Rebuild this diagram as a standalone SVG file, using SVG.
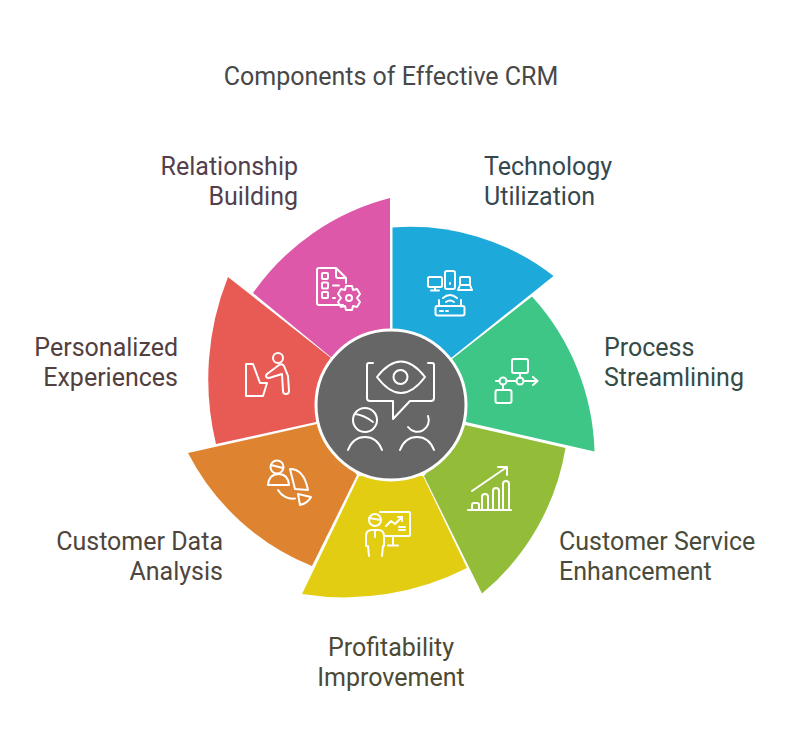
<svg xmlns="http://www.w3.org/2000/svg" width="798" height="753" viewBox="0 0 798 753">
<style>
text{font-family:Roboto,"Liberation Sans",sans-serif;font-size:25px}
.e{text-anchor:end}
.i{fill:none;stroke:#fff;stroke-width:2;stroke-linecap:round;stroke-linejoin:round}
</style>
<rect width="798" height="753" fill="#fff"/>
<text id="title" x="391" y="85" text-anchor="middle" fill="#484848">Components of Effective CRM</text>
<g id="connectors"/>
<g id="technology">
<path d="M392.500 227.500A232 232 0 0 1 553.500 276L451 358L392.500 340Z" fill="#1EA9DB"/>
<g class="i"><rect x="428" y="277" width="14" height="10" rx="1.500"/><path d="M435 287v3M431 290.500h8"/><rect x="445" y="271" width="10" height="18" rx="2"/><path d="M450 283v1"/><path d="M461 277h8q1 0 1 1v7h-10v-7q0-1 1-1zM460 285h10l2 5h-14z"/><path d="M443 298q7-6 14 0M446 302q4-3 8 0"/><rect x="435.500" y="306" width="29" height="9.500" rx="2"/><path d="M439 300v6M461 300v6M440 311h3M446 311h2"/></g>
<text x="484" y="174.500" fill="#354850">Technology</text>
<text x="484" y="204.500" fill="#354850">Utilization</text>
</g>
<g id="process">
<path d="M452 359L532 296.500A240 240 0 0 1 594.500 451.500L466 422Z" fill="#3EC687"/>
<g class="i"><rect x="512" y="359" width="16" height="14" rx="2"/><path d="M520 373v5"/><circle cx="520" cy="381" r="3.500"/><circle cx="503" cy="381" r="3.500"/><path d="M496 381h3.500M506.500 381h10M523.500 381h14M533 377l4.500 4-4.500 4"/><path d="M503 384.500v5"/><rect x="495.500" y="390" width="16" height="13" rx="2"/></g>
<text x="604" y="355.500" fill="#354b45">Process</text>
<text x="604" y="385.500" fill="#354b45">Streamlining</text>
</g>
<g id="service">
<path d="M465 425L565.500 448A240 240 0 0 1 482 593.500L424 476Z" fill="#93BD39"/>
<g class="i"><path d="M468 510h43M472 510v-5q0-2 2-2h3q2 0 2 2v5M482 510v-13q0-3 3-3t3 3v13M493 510v-19q0-3 3-3t3 3v19M503 510v-26q0-3 3-3t3 3v26M472 491l35-24M498 467h9v8"/></g>
<text x="559" y="549.500" fill="#4a4b38">Customer Service</text>
<text x="559" y="579.500" fill="#4a4b38">Enhancement</text>
</g>
<g id="profitability">
<path d="M423 476L467 568A270 270 0 0 1 302 594L359 476Z" fill="#E2CD13"/>
<g class="i"><circle cx="375" cy="520" r="6"/><path d="M369 518l12 2"/><path d="M366 546v-10q0-6 6-6h6q6 0 6 6v10M375 530v7M369 556l-1-10M382 556l1-10M380 512h29q1 0 1 1v22q0 1-1 1h-25M393 536v9M388 545.500h10M386 526l5-5 4 3 7-7M398 517h4v4M399 527h6M399 530h6"/></g>
<text x="391" y="655.500" text-anchor="middle" fill="#4c4934">Profitability</text>
<text x="391" y="685.500" text-anchor="middle" fill="#4c4934">Improvement</text>
</g>
<g id="data">
<path d="M357 475L312 566A240 240 0 0 1 188 453L317 424Z" fill="#DE8431"/>
<g class="i"><circle cx="277" cy="467" r="6.500"/><path d="M271 465l12 3"/><path d="M268 485q1-11 10.500-11t10.500 11zM290 469q14 0 18 21l-13-1zM278 490a17 17 0 0 0 17 8.500M298 494l13 3q-3 6-11 8z"/></g>
<text class="e" x="223" y="549.500" fill="#4f453c">Customer Data</text>
<text class="e" x="223" y="579.500" fill="#4f453c">Analysis</text>
</g>
<g id="personalized">
<path d="M216 444A275 275 0 0 1 228 277L331 358L316 422Z" fill="#E85A54"/>
<g class="i"><path d="M246 364h7l7 19h7l-4 13h-17z"/><circle cx="278" cy="358" r="5"/><path d="M266 376q0-1 1-2l12-9q3-2 5 1l4 10 1 15q0 3-3 3t-3-3l-1-17-13 4q-3 0-3-2z"/></g>
<text class="e" x="178" y="355.500" fill="#524040">Personalized</text>
<text class="e" x="178" y="385.500" fill="#524040">Experiences</text>
</g>
<g id="relationship">
<path d="M253 293A240 240 0 0 1 390 198V340L332 358Z" fill="#DE58A9"/>
<g class="i"><path d="M336 268h-17q-2 0-2 2v33q0 2 2 2h24M336 268l10 10v5M336 268v8q0 2 2 2h8"/><rect x="322" y="273" width="6" height="6" rx="1"/><rect x="322" y="282.500" width="6" height="6" rx="1"/><rect x="322" y="292" width="6" height="6" rx="1"/><path d="M333 285.500h6M333 298h2"/><circle cx="349" cy="298" r="3"/><path d="M346 286h6l1 4 4-1 3 5-3 4 3 4-3 5-4-1-1 4h-6l-1-4-4 1-3-5 3-4-3-4 3-5 4 1z"/></g>
<text class="e" x="298" y="174.500" fill="#533f4d">Relationship</text>
<text class="e" x="298" y="204.500" fill="#533f4d">Building</text>
</g>
<g id="center">
<circle cx="391" cy="405" r="75" fill="#666" stroke="#fff" stroke-width="3"/>
<g class="i"><path d="M373 363h-4q-2 0-2 2v33q0 3 3 3h23v18l17-18h21q3 0 3-3v-33q0-2-2-2h-4"/><path d="M377 377q24-31 48 0q-24 32-48 0z"/><circle cx="400.500" cy="377" r="7"/><circle cx="365" cy="420" r="12"/><path d="M355 414q9 1 18 8M348 450q5-13 17-13t17 13M400 450q5-13 17-13t17 13M408 427A11.500 11.500 0 0 0 428 416"/></g>
</g>
</svg>
